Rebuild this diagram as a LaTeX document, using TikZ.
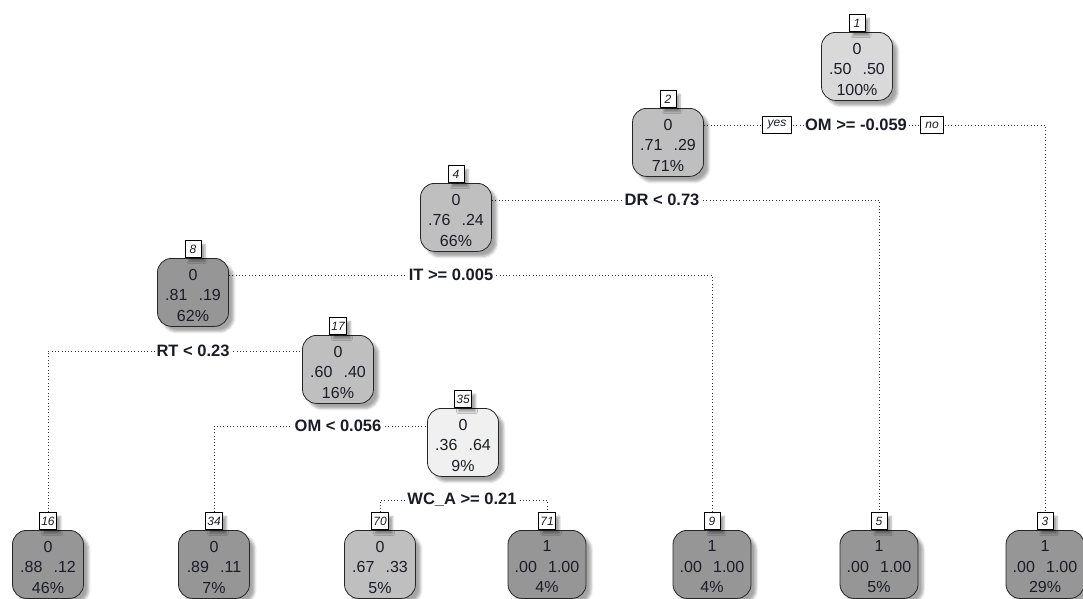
\documentclass[tikz,border=0pt]{standalone}
\usepackage{fontspec}
\setmainfont{Liberation Sans}
\usetikzlibrary{shadows.blur,backgrounds}

\definecolor{fillA}{RGB}{217,217,217}
\definecolor{fillB}{RGB}{191,191,191}
\definecolor{fillC}{RGB}{150,150,150}
\definecolor{fillD}{RGB}{240,240,240}
\definecolor{ink}{RGB}{28,28,40}

\tikzset{
  tnode/.style={draw=black!85, line width=0.8pt, rounded corners=14pt,
    minimum width=71pt, minimum height=68pt, anchor=north, inner sep=0pt,
    blur shadow={shadow xshift=5pt, shadow yshift=-5pt,
      shadow blur radius=2.5pt, shadow opacity=35}},
  ttext/.style={align=center, inner sep=0pt, text=ink,
    font=\fontsize{16}{20.5}\selectfont},
  numbox/.style={draw=black, line width=0.7pt, fill=white, anchor=south,
    minimum width=16pt, minimum height=17pt, inner sep=1.8pt, text=ink,
    font=\fontsize{12}{12}\selectfont\itshape,
    blur shadow={shadow xshift=4pt, shadow yshift=-4pt,
      shadow blur radius=2pt, shadow opacity=35}},
  splitlab/.style={fill=white, inner sep=1.5pt, text=ink,
    font=\bfseries\fontsize{16.5}{16.5}\selectfont},
  yesno/.style={draw=black, line width=0.7pt, fill=white, inner xsep=5pt,
    inner ysep=2pt, minimum height=17pt, text=ink,
    font=\itshape\fontsize{12}{12}\selectfont},
  branch/.style={line width=0.9pt, dash pattern=on 0.9pt off 2.4pt, black!80},
}

% one tree node: name, x, top y, fill, number, contents
\newcommand\treenode[6]{%
  \node[tnode, fill=#4] (#1) at (#2,#3) {};
  \node[ttext] (#1x) at (#2,{#3+37}) {#6};
  \node[numbox] (#1t) at (#1.north) {#5};
}
\newcommand\pp[2]{#1\hspace{0.7em}#2}

\begin{document}
\begin{tikzpicture}[x=1pt,y=-1pt]
\useasboundingbox (0,0) rectangle (1083,598);
\clip (0,0) rectangle (1083,598);

% internal nodes
\treenode{n1}{857}{32}{fillA}{1}{0\\\pp{.50}{.50}\\100\%}
\treenode{n2}{668}{108}{fillB}{2}{0\\\pp{.71}{.29}\\71\%}
\treenode{n4}{456}{183}{fillB}{4}{0\\\pp{.76}{.24}\\66\%}
\treenode{n8}{193}{258}{fillC}{8}{0\\\pp{.81}{.19}\\62\%}
\treenode{n17}{338}{335}{fillB}{17}{0\\\pp{.60}{.40}\\16\%}
\treenode{n35}{463}{408}{fillD}{35}{0\\\pp{.36}{.64}\\9\%}

% leaves
\treenode{n16}{48}{530}{fillC}{16}{0\\\pp{.88}{.12}\\46\%}
\treenode{n34}{214}{530}{fillC}{34}{0\\\pp{.89}{.11}\\7\%}
\treenode{n70}{380}{530}{fillB}{70}{0\\\pp{.67}{.33}\\5\%}
\begin{scope}[tnode/.append style={minimum width=78pt}]
\treenode{n71}{547}{530}{fillC}{71}{1\\\pp{.00}{1.00}\\4\%}
\treenode{n9}{712}{530}{fillC}{9}{1\\\pp{.00}{1.00}\\4\%}
\treenode{n5}{879}{530}{fillC}{5}{1\\\pp{.00}{1.00}\\5\%}
\treenode{n3}{1045}{530}{fillC}{3}{1\\\pp{.00}{1.00}\\29\%}
\end{scope}

% split conditions
\node[splitlab] (s1) at (856,125) {OM >= -0.059};
\node[yesno] (yes) at (777,125) {yes};
\node[yesno] (no) at (932,125) {no};
\node[splitlab] (s2) at (662,200) {DR < 0.73};
\node[splitlab] (s4) at (451,275) {IT >= 0.005};
\node[splitlab] (s8) at (193,351) {RT < 0.23};
\node[splitlab] (s17) at (338,426) {OM < 0.056};
\node[splitlab] (s35) at (462,500) {WC\_A >= 0.21};

% branches
\begin{pgfonlayer}{background}
\draw[branch] (s1 -| n2.east) -- (s1 -| n3t) -- (n3t.north);
\draw[branch] (s2 -| n4.east) -- (s2 -| n5t) -- (n5t.north);
\draw[branch] (s4 -| n8.east) -- (s4 -| n9t) -- (n9t.north);
\draw[branch] (n16t.north) -- (n16t |- s8) -- (s8 -| n17.west);
\draw[branch] (n34t.north) -- (n34t |- s17) -- (s17 -| n35.west);
\draw[branch] (n70t.north) -- (n70t |- s35) -- (s35 -| n71t) -- (n71t.north);
\end{pgfonlayer}
\end{tikzpicture}
\end{document}
